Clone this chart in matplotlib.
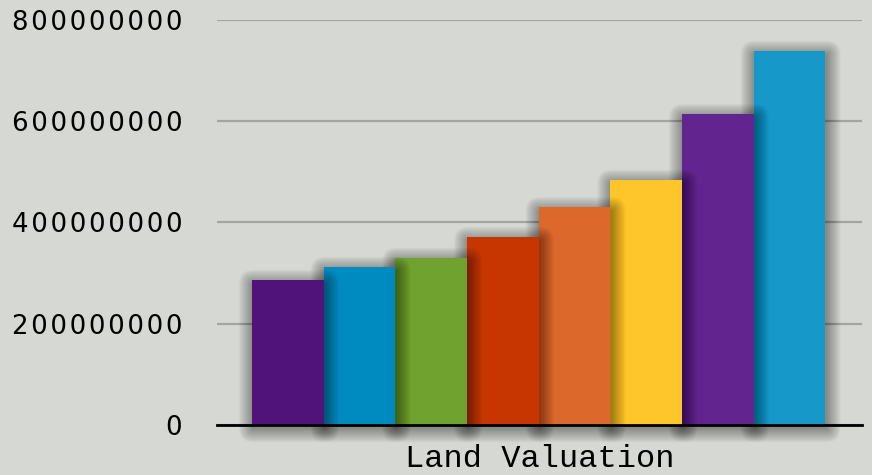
import matplotlib.pyplot as plt
from matplotlib.patches import FancyBboxPatch

# bar values
values = [286e6, 312e6, 330e6, 371e6, 430e6, 484e6, 614e6, 739e6]
colors = ["#4f137a", "#008bc0", "#6fa22e", "#c73600",
          "#dc682c", "#fec62a", "#62248f", "#1699c9"]
yticks = [0, 200000000, 400000000, 600000000, 800000000]
xlabel = "Land Valuation"

bg = "#d6d9d3"
fig = plt.figure(figsize=(8.72, 4.75), dpi=100, facecolor=bg)
ax = fig.add_axes([0.2489, 0.1053, 0.7396, 0.8526], facecolor=bg)

ax.set_xlim(-0.99, 8.01)
ax.set_ylim(0, 800e6)

# pixel sizes in data units
px_x = 1 / 72.0
px_y = 800e6 / 405.0

# draw last bar first so each bar's shadow falls on the next one
n = len(values)
for i in reversed(range(n)):
    base = 10 + (n - i) * 40
    for k in range(24):
        r = 0.6 * (k + 1)
        ax.add_patch(FancyBboxPatch((i - 0.5 + px_x, -3 * px_y), 1.0, values[i] - px_y,
                                    boxstyle=f"round,pad={r * px_x},rounding_size={r * px_x}",
                                    mutation_aspect=px_y / px_x,
                                    facecolor="black", alpha=0.016, lw=0,
                                    zorder=base, clip_on=False))
    ax.bar(i, values[i], width=1.0, color=colors[i], zorder=base + 1)

ax.set_yticks(yticks)
ax.set_yticklabels(["\u200a".join(str(v)) for v in yticks],
                   fontsize=18.7, family="DejaVu Sans")
ax.set_xticks([])
ax.tick_params(axis="y", length=0, pad=25)
ax.grid(axis="y", color="#a3a5a1", linewidth=1.6, zorder=1)
ax.set_axisbelow(True)

for s in ["top", "right", "left"]:
    ax.spines[s].set_visible(False)
ax.spines["bottom"].set_color("black")
ax.spines["bottom"].set_linewidth(2)
ax.spines["bottom"].set_zorder(1000)

ax.set_xlabel(xlabel, fontsize=23, family="Liberation Mono", labelpad=14)

fig.savefig("out.png", dpi=100, facecolor=bg)
